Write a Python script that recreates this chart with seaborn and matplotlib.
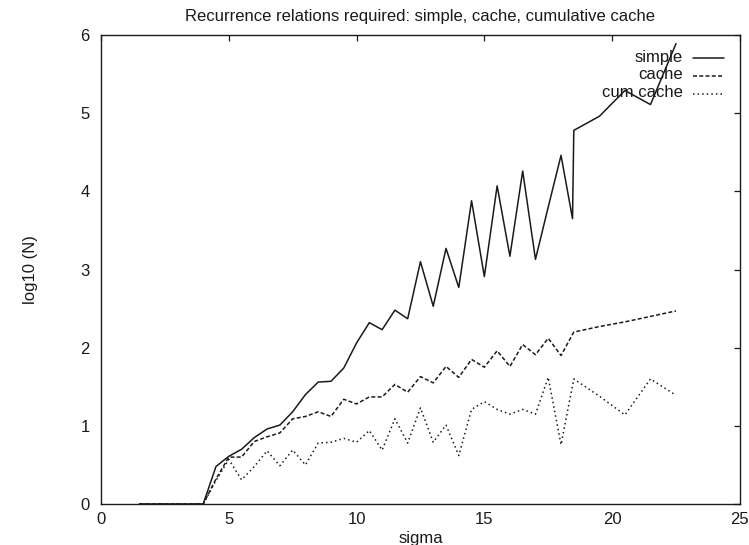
import pandas as pd
import seaborn as sns
import matplotlib
matplotlib.use("Agg")
import matplotlib.pyplot as plt

# values (log10 of number of recurrence calls)
sigma_simple = [1.5, 2.0, 2.5, 3.0, 3.5, 4.0, 4.5, 5.0, 5.5, 6.0, 6.5, 7.0, 7.5, 8.0,
                8.5, 9.0, 9.5, 10.0, 10.5, 11.0, 11.5, 12.0, 12.5, 13.0, 13.5, 14.0,
                14.5, 15.0, 15.5, 16.0, 16.5, 17.0, 17.5, 18.0, 18.45, 18.5, 19.5,
                20.5, 21.5, 22.5]
simple = [0, 0, 0, 0, 0, 0, 0.48, 0.61, 0.70, 0.85, 0.96, 1.01, 1.18, 1.40,
          1.56, 1.57, 1.74, 2.06, 2.32, 2.23, 2.48, 2.37, 3.10, 2.53, 3.27, 2.77,
          3.88, 2.91, 4.07, 3.17, 4.26, 3.13, 3.80, 4.46, 3.65, 4.78, 4.96,
          5.29, 5.11, 5.89]

sigma = [1.5, 2.0, 2.5, 3.0, 3.5, 4.0, 4.5, 5.0, 5.5, 6.0, 6.5, 7.0, 7.5, 8.0,
         8.5, 9.0, 9.5, 10.0, 10.5, 11.0, 11.5, 12.0, 12.5, 13.0, 13.5, 14.0,
         14.5, 15.0, 15.5, 16.0, 16.5, 17.0, 17.5, 18.0, 18.5, 19.5, 20.5,
         21.5, 22.5]
cache = [0, 0, 0, 0, 0, 0, 0.32, 0.60, 0.60, 0.80, 0.86, 0.91, 1.09, 1.12,
         1.18, 1.12, 1.34, 1.28, 1.37, 1.37, 1.53, 1.43, 1.63, 1.55, 1.76, 1.62,
         1.85, 1.75, 1.96, 1.76, 2.04, 1.91, 2.12, 1.90, 2.20, 2.27, 2.33,
         2.40, 2.47]
cum_cache = [0, 0, 0, 0, 0, 0, 0.30, 0.57, 0.31, 0.48, 0.68, 0.49, 0.69, 0.50,
             0.78, 0.79, 0.84, 0.79, 0.94, 0.69, 1.09, 0.78, 1.23, 0.79, 1.01, 0.62,
             1.21, 1.31, 1.21, 1.15, 1.21, 1.15, 1.62, 0.76, 1.60, 1.38, 1.14,
             1.60, 1.39]

labels = ["simple", "cache", "cum cache"]

sns.set_style("white")
plt.rcParams['font.family'] = ['Liberation Sans', 'DejaVu Sans']

ink = "#1a1a1a"
lw = 1.1
styles = ["-", (0, (2.6, 1.5)), (0, (1.0, 2.0))]

fig = plt.figure(figsize=(7.49, 5.45), dpi=100)
ax = fig.add_axes([0.1348, 0.0752, 0.8531, 0.8606])

series = [(sigma_simple, simple), (sigma, cache), (sigma, cum_cache)]
for (xs, ys), ls in zip(series, styles):
    sns.lineplot(x=xs, y=ys, ax=ax, color=ink, linewidth=lw, linestyle=ls,
                 estimator=None, sort=False)

ax.set_xlim(0, 25)
ax.set_ylim(0, 6)
ax.set_xticks([0, 5, 10, 15, 20, 25])
ax.set_yticks([0, 1, 2, 3, 4, 5, 6])
ax.tick_params(direction="in", length=4.5, width=0.9, colors=ink,
               labelsize=12, top=True, right=True)
ax.tick_params(axis="x", pad=6)
ax.tick_params(axis="y", pad=8)
for s in ax.spines.values():
    s.set_linewidth(1.0)
    s.set_color(ink)

ax.set_title("Recurrence relations required: simple, cache, cumulative cache",
             fontsize=12, color=ink, pad=10)
ax.set_xlabel("sigma", fontsize=12, color=ink)
ax.set_ylabel("log10 (N)", fontsize=12, color=ink)
ax.xaxis.set_label_coords(0.5, -0.058)
ax.yaxis.set_label_coords(-0.099, 0.5)

# gnuplot style key: right aligned text, sample line to its right
rows = [0.953, 0.915, 0.878]
for lab, ls, yy in zip(labels, styles, rows):
    ax.text(0.911, yy, lab, transform=ax.transAxes, ha="right", va="center",
            fontsize=12, color=ink)
    ax.plot([0.927, 0.975], [yy - 0.003, yy - 0.003], transform=ax.transAxes,
            color=ink, linewidth=lw, linestyle=ls)

fig.savefig("out.png", dpi=100)
